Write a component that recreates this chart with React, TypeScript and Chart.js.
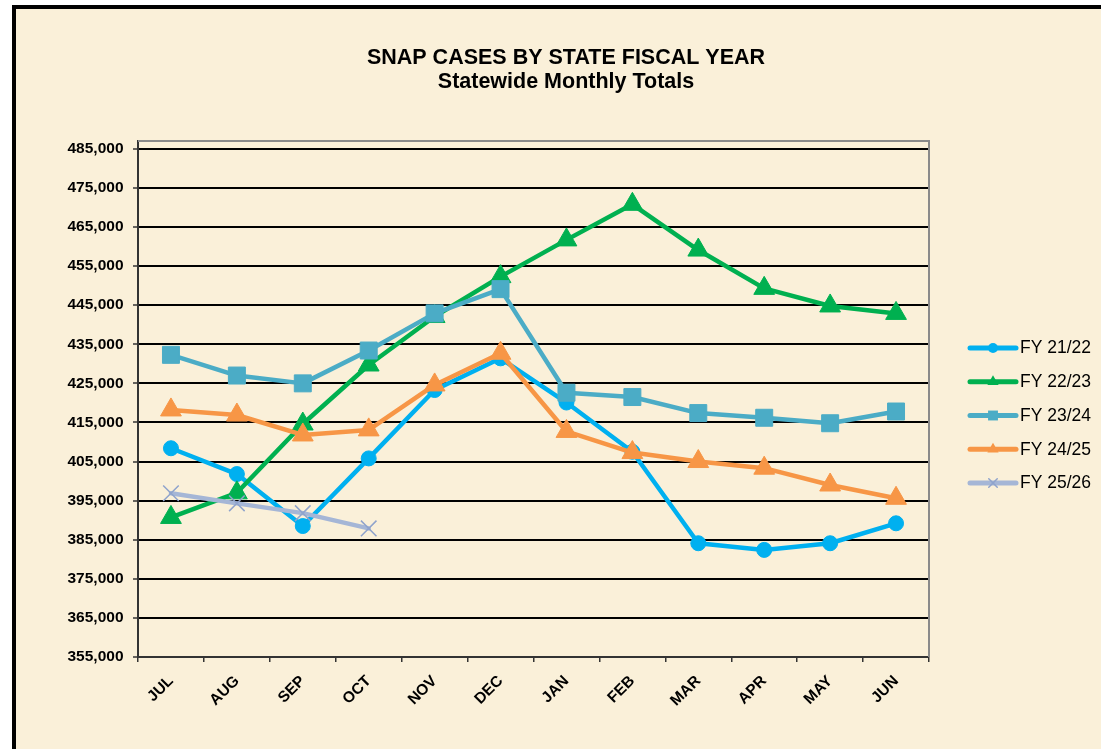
import React, { useEffect, useRef } from "react";
import { Chart, registerables } from "chart.js";

Chart.register(...registerables);

const months = ["JUL", "AUG", "SEP", "OCT", "NOV", "DEC", "JAN", "FEB", "MAR", "APR", "MAY", "JUN"];
const fy2122 = [408400, 401800, 388500, 405800, 423300, 431400, 420100, 407500, 384100, 382400, 384100, 389200];
const fy2223 = [390700, 397000, 414600, 429700, 442100, 452300, 461700, 470800, 459100, 449300, 444800, 442900];
const fy2324 = [432300, 427000, 425000, 433400, 442900, 449100, 422600, 421500, 417400, 416200, 414800, 417800];
const fy2425 = [418200, 416900, 411800, 413100, 424600, 432700, 412700, 407300, 405000, 403300, 399000, 395600];
const fy2526 = [396900, 394300, 391800, 387900];
const yTickValues = [355000, 365000, 375000, 385000, 395000, 405000, 415000, 425000, 435000, 445000, 455000, 465000, 475000, 485000];
const seriesNames = ["FY 21/22", "FY 22/23", "FY 23/24", "FY 24/25", "FY 25/26"];
const seriesData = [fy2122, fy2223, fy2324, fy2425, fy2526];
const titleLines = ["SNAP CASES BY STATE FISCAL YEAR", "Statewide Monthly Totals"];

const colors = ["#00B0F0", "#00B050", "#4BACC6", "#F79646", "#A5B6D6"];
const pointStyles = ["circle", "triangle", "rect", "triangle", "crossRot"];
const pointRadii = [7.5, 12, 12, 12, 11];
const legendRadii = [5, 6.5, 7, 6.5, 6];

const FONT = "'Liberation Sans', Arial, Helvetica, sans-serif";
const BG = "#FAF0D9";

const framePlugin = {
  id: "frame",
  beforeDraw(chart: any) {
    const ctx = chart.ctx;
    const w = chart.width;
    const h = chart.height;
    ctx.save();
    ctx.fillStyle = "#ffffff";
    ctx.fillRect(0, 0, w, h);
    ctx.fillStyle = BG;
    ctx.fillRect(12, 5, w - 12, h - 5);
    ctx.fillStyle = "#000000";
    ctx.fillRect(12, 5, 4, h - 5);
    ctx.fillRect(12, 5, w - 12, 4);
    ctx.restore();
  },
  beforeDatasetsDraw(chart: any) {
    const { ctx, chartArea } = chart;
    ctx.save();
    ctx.strokeStyle = "#8a8a8a";
    ctx.lineWidth = 2;
    ctx.beginPath();
    ctx.moveTo(chartArea.left, chartArea.top);
    ctx.lineTo(chartArea.right, chartArea.top);
    ctx.lineTo(chartArea.right, chartArea.bottom);
    ctx.stroke();
    ctx.restore();
  },
  afterDraw(chart: any) {
    const ctx = chart.ctx;
    ctx.save();
    // title
    ctx.fillStyle = "#000";
    ctx.textAlign = "center";
    ctx.textBaseline = "alphabetic";
    ctx.font = `bold 21.5px ${FONT}`;
    ctx.fillText(titleLines[0], 566, 63.5);
    ctx.fillText(titleLines[1], 566, 87.5);
    // legend
    const x0 = 970;
    const x1 = 1016;
    const xm = (x0 + x1) / 2;
    chart.data.datasets.forEach((ds: any, i: number) => {
      const y = 348 + i * 33.75;
      ctx.strokeStyle = colors[i];
      ctx.lineWidth = 5;
      ctx.lineCap = "round";
      ctx.beginPath();
      ctx.moveTo(x0, y);
      ctx.lineTo(x1, y);
      ctx.stroke();
      const style = pointStyles[i];
      const r = legendRadii[i];
      ctx.fillStyle = colors[i];
      if (style === "crossRot") {
        ctx.lineWidth = 1.5;
        ctx.strokeStyle = "#8FA3CC";
        const d = r * Math.SQRT1_2;
        ctx.beginPath();
        ctx.moveTo(xm - d, y - d);
        ctx.lineTo(xm + d, y + d);
        ctx.moveTo(xm + d, y - d);
        ctx.lineTo(xm - d, y + d);
        ctx.stroke();
      } else {
        ctx.beginPath();
        if (style === "circle") {
          ctx.arc(xm, y, r, 0, Math.PI * 2);
        } else if (style === "rect") {
          ctx.rect(xm - r * Math.SQRT1_2, y - r * Math.SQRT1_2, 2 * r * Math.SQRT1_2, 2 * r * Math.SQRT1_2);
        } else {
          ctx.moveTo(xm, y - r);
          ctx.lineTo(xm + r * 0.866, y + r / 2);
          ctx.lineTo(xm - r * 0.866, y + r / 2);
          ctx.closePath();
        }
        ctx.fill();
      }
      ctx.fillStyle = "#000";
      ctx.textAlign = "left";
      ctx.textBaseline = "middle";
      ctx.font = `17.5px ${FONT}`;
      ctx.fillText(seriesNames[i], 1020, y + 0.5);
    });
    ctx.restore();
  },
};

export default function App() {
  const ref = useRef<HTMLCanvasElement>(null);
  useEffect(() => {
    document.body.style.margin = "0";
    document.body.style.overflow = "hidden";
    const canvas = ref.current as HTMLCanvasElement;
    const datasets = seriesData.map((d, i) => ({
      label: seriesNames[i],
      data: d,
      borderColor: colors[i],
      backgroundColor: colors[i],
      borderWidth: 4.5,
      borderJoinStyle: "round" as const,
      borderCapStyle: "round" as const,
      pointStyle: pointStyles[i] as any,
      pointRadius: pointRadii[i],
      pointBorderWidth: i === 4 ? 1.5 : 1,
      pointBorderColor: i === 4 ? "#8FA3CC" : colors[i],
      pointBackgroundColor: colors[i],
      tension: 0,
      order: 5 - i,
    }));
    const tickFont = { family: FONT, size: 15.5, weight: "bold" as const };
    const chart = new Chart(canvas, {
      type: "line",
      data: { labels: months, datasets },
      options: {
        responsive: false,
        animation: false,
        events: [],
        layout: { padding: { top: 141, right: 172, left: 0, bottom: 0 } },
        plugins: {
          legend: { display: false },
          title: { display: false },
          tooltip: { enabled: false },
        },
        scales: {
          x: {
            offset: true,
            grid: {
              offset: true,
              drawOnChartArea: false,
              drawTicks: true,
              tickLength: 5,
              color: "#333",
              lineWidth: 1.5,
            },
            border: { display: true, color: "#333", width: 2 },
            ticks: {
              autoSkip: false,
              minRotation: 45,
              maxRotation: 45,
              font: tickFont,
              color: "#000",
              padding: 10,
            },
            afterFit: (s: any) => {
              s.height = 92;
            },
          },
          y: {
            min: 355000,
            max: 487000,
            afterBuildTicks: (s: any) => {
              s.ticks = yTickValues.map((v) => ({ value: v }));
            },
            grid: {
              color: "#000",
              lineWidth: 2,
              tickLength: 5,
              tickColor: "#333",
              tickWidth: 1.5,
            },
            border: { display: true, color: "#333", width: 2 },
            ticks: {
              padding: 9.5,
              font: tickFont,
              color: "#000",
              callback: (v: any) => Number(v).toLocaleString("en-US"),
            },
            afterFit: (s: any) => {
              s.width = 138;
            },
          },
        },
      },
      plugins: [framePlugin],
    });
    return () => chart.destroy();
  }, []);
  return (
    <div style={{ width: 1101, height: 749, position: "relative" }}>
      <canvas ref={ref} width={1101} height={749} style={{ display: "block" }} />
    </div>
  );
}
